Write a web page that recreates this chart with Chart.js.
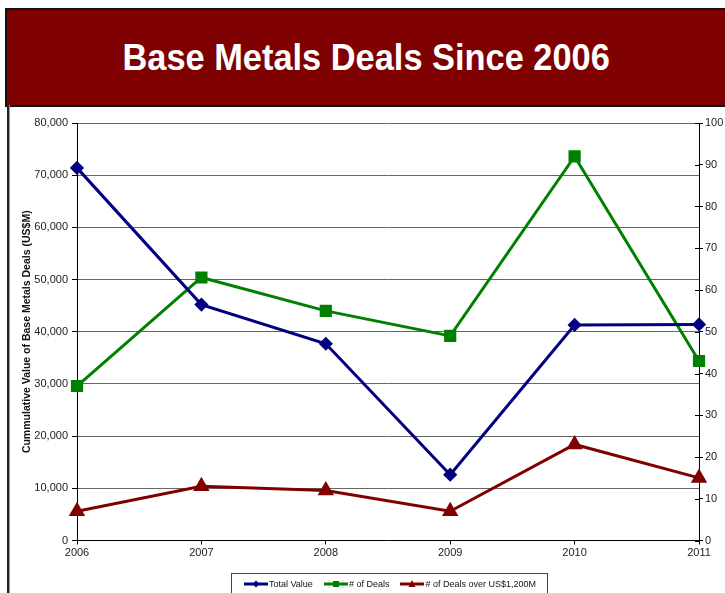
<!DOCTYPE html>
<html>
<head>
<meta charset="utf-8">
<script src="https://cdn.jsdelivr.net/npm/chart.js@4.4.1/dist/chart.umd.min.js"></script>
<style>
  html, body { margin: 0; padding: 0; background: #fff; }
  body { width: 725px; height: 593px; position: relative; overflow: hidden; font-family: "Liberation Sans", Arial, sans-serif; }
  #banner {
    position: absolute; left: 5px; top: 8px; width: 730px; height: 95px;
    background: #7f0000; border: 2px solid #111; box-sizing: content-box;
    color: #fff; font-weight: bold; font-size: 36px; text-align: center; line-height: 95px;
  }
  #banner span { display: inline-block; position: relative; left: -6px; transform: scaleX(0.955); }
  #panel {
    position: absolute; left: 7px; top: 105px; width: 740px; height: 500px;
    border-left: 2px solid #222; box-shadow: inset 1px 0 0 #999;
  }
  #wrap { position: absolute; left: 9px; top: 106px; width: 716px; height: 487px; }
  #legend {
    position: absolute; left: 231px; top: 573px; width: 317px; height: 26px;
    border: 1px solid #444; box-sizing: border-box; font-size: 9px; color: #111;
    display: flex; align-items: flex-start; padding: 5px 0 0 12px; white-space: nowrap;
  }
  #legend .item { display: flex; align-items: center; margin-right: 11px; }
  #legend svg { display: block; margin-right: 1px; }
</style>
</head>
<body>
<div id="banner"><span>Base Metals Deals Since 2006</span></div>
<div id="panel"></div>
<div id="wrap"><canvas id="c" width="716" height="487"></canvas></div>
<div id="legend"></div>
<script>
// Years on the horizontal axis
const years = ['2006', '2007', '2008', '2009', '2010', '2011'];
// Cumulative value of base metals deals, US$M (left axis)
const totalValue = [71400, 45200, 37700, 12600, 41300, 41400];
// Number of deals (right axis)
const dealCount = [37, 63, 55, 49, 92, 43];
// Number of deals over US$1,200M (right axis)
const largeDealCount = [7, 13, 12, 7, 23, 15];

const seriesNames = ['Total Value', '# of Deals', '# of Deals over US$1,200M'];
const seriesColors = ['#000080', '#008000', '#800000'];

const tickFont = { family: '"Liberation Sans", Arial, sans-serif', size: 11 };

// Right axis ticks cross the axis line; draw the inner halves
const innerTicks = {
  id: 'innerTicks',
  afterDraw(chart) {
    const ctx = chart.ctx;
    const r = chart.scales.y2;
    ctx.save();
    ctx.strokeStyle = '#000';
    ctx.lineWidth = 1;
    r.ticks.forEach((t, i) => {
      const y = Math.round(r.getPixelForTick(i)) + 0.5;
      ctx.beginPath();
      ctx.moveTo(r.left - 4, y);
      ctx.lineTo(r.left, y);
      ctx.stroke();
    });
    ctx.restore();
  }
};

new Chart(document.getElementById('c'), {
  type: 'line',
  data: {
    labels: years,
    datasets: [
      {
        label: seriesNames[0], data: totalValue, yAxisID: 'y',
        borderColor: seriesColors[0], backgroundColor: seriesColors[0],
        borderWidth: 3, pointStyle: 'rectRot', pointRadius: 5, pointHoverRadius: 5,
        tension: 0, clip: false
      },
      {
        label: seriesNames[1], data: dealCount, yAxisID: 'y2',
        borderColor: seriesColors[1], backgroundColor: seriesColors[1],
        borderWidth: 3, pointStyle: 'rect', pointRadius: 6.5, pointHoverRadius: 6.5,
        tension: 0, clip: false
      },
      {
        label: seriesNames[2], data: largeDealCount, yAxisID: 'y2',
        borderColor: seriesColors[2], backgroundColor: seriesColors[2],
        borderWidth: 3, pointStyle: 'triangle', pointRadius: 6.5, pointHoverRadius: 6.5,
        tension: 0, clip: false
      }
    ]
  },
  options: {
    responsive: false,
    animation: false,
    events: [],
    layout: { padding: { top: 17, left: 0, right: 0, bottom: 0 } },
    plugins: { legend: { display: false }, tooltip: { enabled: false } },
    scales: {
      x: {
        offset: false,
        border: { color: '#000', width: 1 },
        grid: { drawOnChartArea: false, drawTicks: true, tickLength: 4, tickColor: '#000' },
        ticks: { font: tickFont, color: '#222', padding: 2, maxRotation: 0 },
        afterFit(s) { s.height = 52.5; }
      },
      y: {
        position: 'left', min: 0, max: 80000,
        border: { color: '#000', width: 1 },
        grid: { color: '#666', lineWidth: 1, tickColor: '#000', tickLength: 5 },
        ticks: {
          stepSize: 10000, font: tickFont, color: '#222', padding: 4,
          callback: v => v.toLocaleString('en-US')
        },
        title: {
          display: true, text: 'Cummulative Value of Base Metals Deals (US$M)',
          font: { family: '"Liberation Sans", Arial, sans-serif', size: 10.5, weight: 'bold' },
          color: '#111', padding: { top: 12, bottom: 0 }
        },
        afterFit(s) { s.width = 68; }
      },
      y2: {
        position: 'right', min: 0, max: 100,
        border: { color: '#000', width: 1 },
        grid: { drawOnChartArea: false, tickColor: '#000', tickLength: 4 },
        ticks: { stepSize: 10, font: tickFont, color: '#222', padding: 2 },
        afterFit(s) { s.width = 26; }
      }
    }
  },
  plugins: [innerTicks]
});

// Legend: line with marker, then series name
const markerSvg = (i, color) => {
  let m;
  if (i === 0) m = `<polygon points="12,1.5 15.5,5 12,8.5 8.5,5" fill="${color}"/>`;
  else if (i === 1) m = `<rect x="9" y="2" width="6" height="6" fill="${color}"/>`;
  else m = `<polygon points="12,1 15.5,8 8.5,8" fill="${color}"/>`;
  return `<svg width="24" height="10"><line x1="0" y1="5" x2="24" y2="5" stroke="${color}" stroke-width="3"/>${m}</svg>`;
};
const legend = document.getElementById('legend');
seriesNames.forEach((name, i) => {
  const item = document.createElement('div');
  item.className = 'item';
  item.innerHTML = markerSvg(i, seriesColors[i]) + '<span>' + name + '</span>';
  legend.appendChild(item);
});
</script>
</body>
</html>
